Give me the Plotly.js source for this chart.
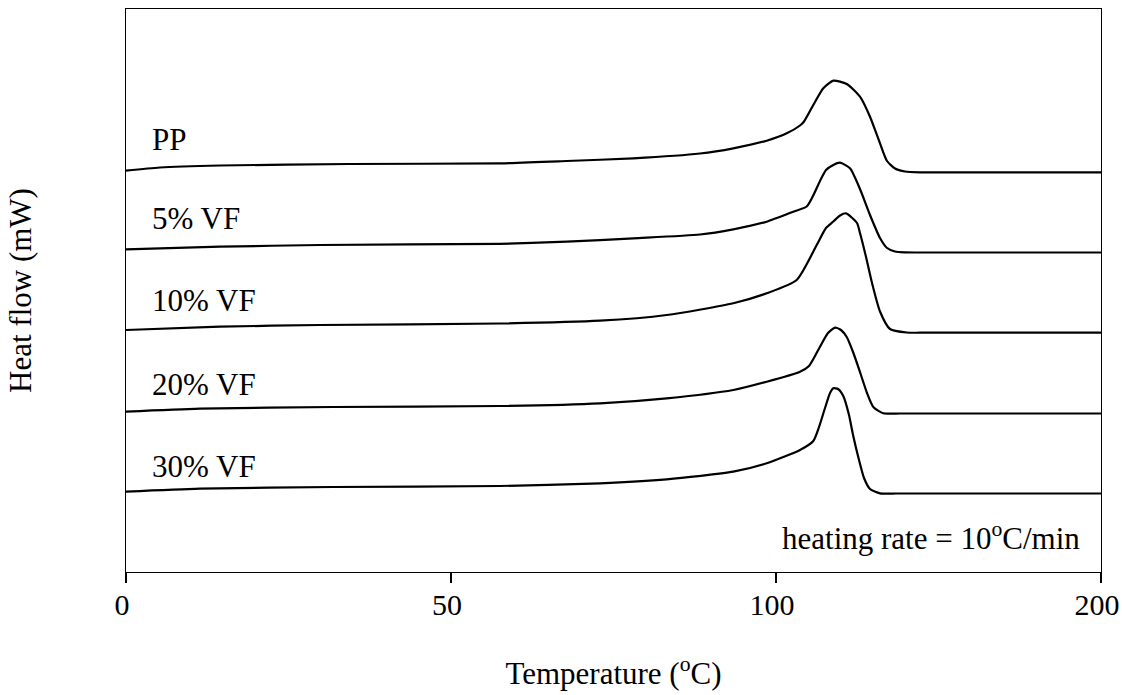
<!DOCTYPE html>
<html>
<head>
<meta charset="utf-8">
<script src="https://cdn.plot.ly/plotly-3.0.1.min.js"></script>
<style>html,body{margin:0;padding:0;background:#fff;}#chart{width:1122px;height:695px;}</style>
</head>
<body>
<div id="chart"></div>
<script>
// x values are positions on the drawn temperature scale (ticks equally spaced, labelled 0, 50, 100, 200)
var tickVals = [0, 50, 100, 150];
var tickText = ['0', '50', '100', '200'];

var seriesNames = ['PP', '5% VF', '10% VF', '20% VF', '30% VF'];

var xPP = [0, 5.23, 14.46, 34.46, 57.54, 67.8, 78.05, 88.31, 93.43, 98.57, 101.65, 103.69, 104.31, 105.74, 107.28, 108.82, 110.88, 112.92, 114.46, 116.0, 117.08, 118.31, 119.85, 122.15, 128, 150];
var yPP = [40.13, 40.45, 40.65, 40.8, 40.87, 41.1, 41.37, 41.85, 42.37, 43.13, 43.87, 44.65, 45.05, 46.7, 48.37, 49.13, 48.8, 47.53, 45.53, 42.87, 41.1, 40.35, 40.05, 39.97, 39.97, 39.97];

var x5 = [0, 14.46, 29.85, 57.54, 67.8, 78.05, 88.31, 93.43, 98.57, 102.66, 104.72, 105.69, 106.77, 107.69, 108.82, 109.85, 111.38, 112.92, 114.46, 116.0, 117.08, 118.31, 119.85, 122.5, 128, 150];
var y5 = [32.27, 32.53, 32.7, 32.82, 33.03, 33.37, 33.75, 34.27, 35.03, 36.03, 36.55, 37.6, 39.1, 40.2, 40.7, 40.93, 40.37, 38.3, 35.7, 33.4, 32.4, 32.05, 31.97, 31.95, 31.95, 31.95];

var x10 = [0, 14.46, 29.85, 57.54, 72.92, 83.18, 93.43, 98.57, 103.18, 106.26, 107.69, 108.82, 109.85, 110.77, 112.46, 112.92, 113.85, 114.77, 116.0, 117.54, 120.11, 122.8, 128, 150];
var y10 = [24.2, 24.53, 24.7, 24.85, 25.13, 25.7, 26.87, 27.87, 29.2, 32.7, 34.4, 35.05, 35.65, 35.87, 34.9, 33.9, 31.5, 28.9, 26.05, 24.3, 23.95, 23.93, 23.93, 23.93];

var x20 = [0, 11.38, 31.85, 57.54, 72.92, 83.18, 93.43, 98.57, 103.69, 105.08, 106.77, 108.0, 109.08, 110.0, 110.88, 111.85, 112.92, 114.0, 114.97, 116.51, 119.08, 122, 128, 150];
var y20 = [16.03, 16.33, 16.5, 16.6, 16.87, 17.37, 18.2, 19.03, 20.03, 20.6, 22.53, 23.9, 24.43, 24.2, 23.5, 22.0, 20.0, 17.9, 16.5, 15.87, 15.85, 15.85, 15.85, 15.85];

var x30 = [0, 11.38, 31.85, 57.54, 72.92, 83.18, 93.43, 98.57, 103.69, 105.74, 106.62, 107.54, 108.31, 108.82, 109.54, 110.35, 111.23, 111.85, 112.77, 113.54, 114.46, 116.0, 118.5, 122, 128, 150];
var y30 = [8.03, 8.33, 8.5, 8.6, 8.87, 9.27, 10.03, 10.87, 12.2, 13.1, 14.5, 16.4, 17.9, 18.37, 18.3, 17.6, 15.7, 13.7, 11.2, 9.4, 8.3, 7.87, 7.85, 7.85, 7.85, 7.85];

var labelY = [43.25, 35.35, 27.2, 18.8, 10.6];
var labelX = 3.7;

var xs = [xPP, x5, x10, x20, x30];
var ys = [yPP, y5, y10, y20, y30];

var font = 'Liberation Serif, Times New Roman, serif';

var traces = xs.map(function (x, i) {
  return {
    x: x, y: ys[i], name: seriesNames[i], type: 'scatter', mode: 'lines',
    line: {color: '#000', width: 2.2, shape: 'spline', smoothing: 0.6},
    showlegend: false, hoverinfo: 'skip'
  };
});

var annotations = seriesNames.map(function (n, i) {
  return {
    x: labelX, y: labelY[i], xref: 'x', yref: 'y', text: n, showarrow: false,
    xanchor: 'left', yanchor: 'middle', font: {family: font, size: 31, color: '#000'}
  };
});
annotations.push({
  x: 147.1, y: 3.6, xref: 'x', yref: 'y', text: 'heating rate = 10<sup>o</sup>C/min',
  showarrow: false, xanchor: 'right', yanchor: 'middle',
  font: {family: font, size: 31, color: '#000'}
});

var layout = {
  width: 1122, height: 695,
  margin: {l: 126, r: 21, t: 9, b: 123},
  paper_bgcolor: '#fff', plot_bgcolor: '#fff',
  font: {family: font, color: '#000'},
  xaxis: {
    range: [0, 150], tickmode: 'array', tickvals: tickVals, ticktext: tickText,
    showgrid: false, zeroline: false, showline: true, mirror: true,
    linecolor: '#000', linewidth: 1.3, ticks: 'outside', ticklen: 10, tickwidth: 1.3, tickcolor: '#000',
    tickfont: {family: font, size: 30, color: '#000'},
    ticklabeloverflow: 'allow', ticklabelshift: -4, ticklabelstandoff: -4,
    title: {text: 'Temperature (<sup>o</sup>C)', font: {family: font, size: 31, color: '#000'}, standoff: 42}
  },
  yaxis: {
    range: [0, 56.3], showgrid: false, zeroline: false, showline: true, mirror: true,
    linecolor: '#000', linewidth: 1.3, ticks: '', showticklabels: false,
    title: {text: 'Heat flow (mW)', font: {family: font, size: 31, color: '#000'}, standoff: 84}
  },
  annotations: annotations
};

Plotly.newPlot('chart', traces, layout, {displayModeBar: false, staticPlot: true});
</script>
</body>
</html>
